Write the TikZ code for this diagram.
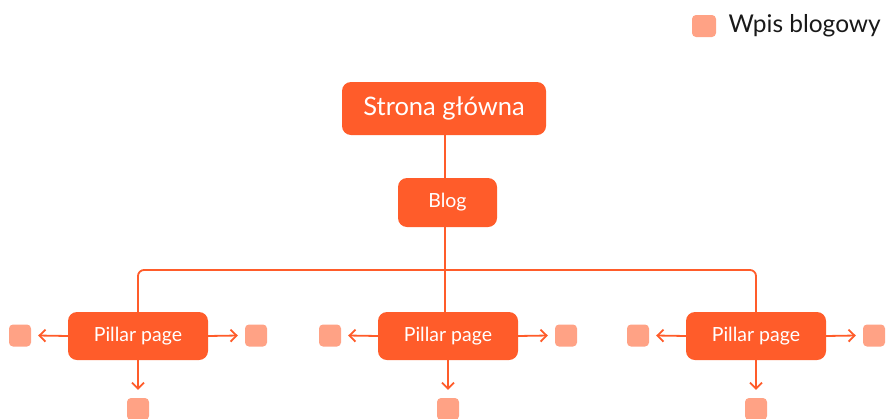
\documentclass[tikz,border=0pt]{standalone}
\usepackage{fontspec}
\setmainfont{Lato}
\usetikzlibrary{arrows.meta}
\definecolor{brand}{HTML}{FF5C2A}
\definecolor{post}{HTML}{FFA285}
\begin{document}
\begin{tikzpicture}[x=1pt,y=-1pt,
  box/.style={fill=brand, rounded corners=9pt, text=white, inner sep=0pt, align=center},
  postbox/.style={fill=post, rounded corners=4pt, minimum width=22pt, minimum height=22pt, inner sep=0pt},
  link/.style={draw=brand, line width=1.8pt},
  arr/.style={link, -{Straight Barb[length=6pt,width=12pt,line width=1.8pt]}}]
\useasboundingbox (0,0) rectangle (886,418);

% legend
\node[postbox, minimum width=24pt] (legsq) at (704,26) {};
\node[anchor=west, font=\fontsize{24.5}{28}\selectfont, text=black!90] (legtxt) at (725,26) {Wpis blogowy};

% hierarchy
\node[box, minimum width=204pt, minimum height=53pt, font=\fontsize{25.5}{29}\selectfont] (home) at (444,108.5) {Strona główna};
\node[box, minimum width=99pt, minimum height=49pt, font=\fontsize{19.5}{22}\selectfont] (blog) at (447.5,202.5) {Blog};

\foreach \n/\x in {l/138, m/448, r/756} {
  \node[box, minimum width=140pt, minimum height=48pt, font=\fontsize{19.5}{22}\selectfont] (p\n) at (\x,336) {Pillar page};
  \node[postbox] (p\n w) at (\x-118,335.5) {};
  \node[postbox] (p\n e) at (\x+118,335.5) {};
  \node[postbox] (p\n s) at (\x,409) {};
  \draw[arr] (p\n.west) -- ([xshift=7pt]p\n w.east);
  \draw[arr] (p\n.east) -- ([xshift=-7pt]p\n e.west);
  \draw[arr] (p\n.south) -- ([yshift=8pt]p\n s.north);
}

\coordinate (hub) at (445,270);
\draw[link] (home.south -| hub) -- (blog.north -| hub);
\draw[link] (blog.south -| hub) -- (pm.north -| hub);
\draw[link, rounded corners=6pt] (pl.north) -- (pl.north |- hub) -- (pr.north |- hub) -- (pr.north);
\end{tikzpicture}
\end{document}
